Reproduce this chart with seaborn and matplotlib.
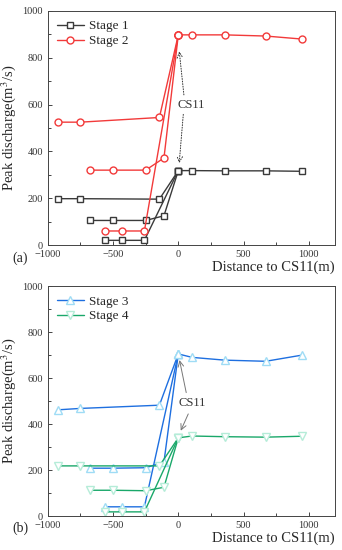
import matplotlib
matplotlib.use('Agg')
import matplotlib.pyplot as plt
import seaborn as sns
import pandas as pd

sns.set_style('ticks')
plt.rcParams['font.family'] = ['Liberation Serif', 'DejaVu Serif']
plt.rcParams['mathtext.fontset'] = 'stix'

# downstream section (shared by all branches)
down_x = [0, 105, 355, 670, 950]
s1_down = [318, 318, 317, 317, 315]
s2_down = [898, 898, 898, 893, 880]
s3_down = [705, 690, 678, 673, 700]
s4_down = [340, 348, 345, 343, 347]

# upstream branches
br_a_x = [-920, -750, -145]
br_b_x = [-680, -500, -250, -110]
br_c_x = [-560, -430, -260]

s1_a = [198, 198, 196]
s1_b = [105, 105, 105, 125]
s1_c = [20, 20, 20]

s2_a = [525, 525, 545]
s2_b = [320, 320, 320, 372]
s2_c = [60, 60, 60]

s3_a = [462, 468, 482]
s3_b = [208, 208, 210, 235]
s3_c = [40, 40, 40]

s4_a = [218, 218, 218]
s4_b = [112, 112, 110, 125]
s4_c = [18, 18, 18]


def stage_frame(ups, down):
    parts = []
    for i, (bx, by) in enumerate(zip([br_a_x, br_b_x, br_c_x], ups)):
        parts.append(pd.DataFrame({'x': bx + [down_x[0]], 'y': by + [down[0]], 'seg': i}))
    parts.append(pd.DataFrame({'x': down_x, 'y': down, 'seg': 3}))
    return pd.concat(parts, ignore_index=True)


def draw_stage(ax, df, label, color, marker, mfc, mec, ms):
    for seg, g in df.groupby('seg'):
        sns.lineplot(data=g, x='x', y='y', ax=ax, sort=False, color=color, lw=1.0,
                     marker=marker, markersize=ms, markerfacecolor=mfc,
                     markeredgecolor=mec, markeredgewidth=1.0,
                     label=label if seg == 3 else None, legend=False)


def style_axes(ax, tag):
    ax.set_xlim(-1000, 1200)
    ax.set_ylim(0, 1000)
    ax.set_xticks([-1000, -500, 0, 500, 1000])
    ax.set_yticks(range(0, 1001, 200))
    ax.set_yticks(range(100, 1000, 200), minor=True)
    ax.set_xticks(range(-750, 1200, 500), minor=True)
    ax.tick_params(direction='in', labelsize=7.5, length=3, width=0.6,
                   labelcolor='#333333')
    ax.tick_params(which='minor', direction='in', length=2, width=0.6)
    for s in ax.spines.values():
        s.set_linewidth(0.7)
        s.set_color('#444444')
    ax.set_xlabel('')
    ax.set_ylabel('Peak discharge(m$^3$/s)', fontsize=10.5, labelpad=3)
    ax.text(1.0, -0.095, 'Distance to CS11(m)', transform=ax.transAxes,
            ha='right', va='center', fontsize=10.5)
    ax.text(-0.095, -0.055, tag, transform=ax.transAxes, ha='center', va='center',
            fontsize=10)
    ax.legend(loc='upper left', frameon=False, fontsize=9.5, handlelength=2.0,
              borderaxespad=0.3, labelspacing=0.2, handletextpad=0.4)


fig = plt.figure(figsize=(3.42, 5.5), dpi=100)
ax1 = fig.add_axes([0.140, 0.5545, 0.839, 0.4255])
ax2 = fig.add_axes([0.140, 0.0618, 0.839, 0.418])

draw_stage(ax1, stage_frame([s1_a, s1_b, s1_c], s1_down), 'Stage 1',
           '#3a3a3a', 's', 'white', '#3a3a3a', 4.5)
draw_stage(ax1, stage_frame([s2_a, s2_b, s2_c], s2_down), 'Stage 2',
           '#f23a3a', 'o', 'white', '#f23a3a', 5)

draw_stage(ax2, stage_frame([s3_a, s3_b, s3_c], s3_down), 'Stage 3',
           '#1e6fe0', '^', 'white', '#9fdcf5', 6)
draw_stage(ax2, stage_frame([s4_a, s4_b, s4_c], s4_down), 'Stage 4',
           '#1aa86a', 'v', 'white', '#b5ecd8', 6)

# CS11 annotations
ax1.text(95, 600, 'CS11', fontsize=9, color='#333333', va='center', ha='center')
ax1.annotate('', xy=(5, 840), xytext=(45, 630),
             arrowprops=dict(arrowstyle='->', ls=':', color='#333333', lw=0.7))
ax1.annotate('', xy=(5, 338), xytext=(40, 570),
             arrowprops=dict(arrowstyle='->', ls=':', color='#333333', lw=0.7))

ax2.text(110, 490, 'CS11', fontsize=9, color='#333333', va='center', ha='center')
ax2.annotate('', xy=(5, 690), xytext=(65, 525),
             arrowprops=dict(arrowstyle='->', color='#777777', lw=0.7))
ax2.annotate('', xy=(10, 360), xytext=(85, 455),
             arrowprops=dict(arrowstyle='->', color='#777777', lw=0.7))

style_axes(ax1, '(a)')
style_axes(ax2, '(b)')

fig.savefig('out.png', dpi=100)
plt.close()
